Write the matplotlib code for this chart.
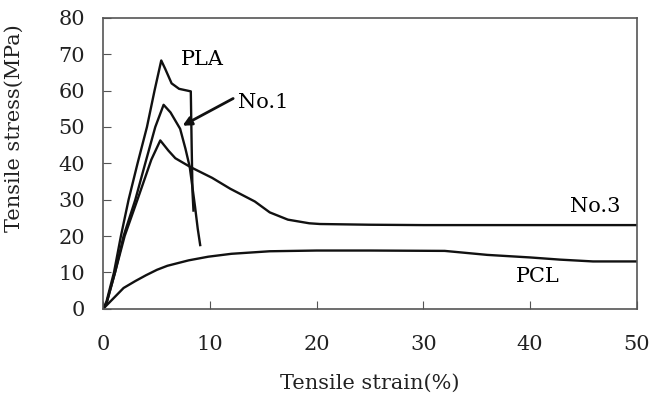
import numpy as np
import matplotlib
matplotlib.use("Agg")
from matplotlib import pyplot as plt

# Curvas tensao-deformacao
pla_x = [0, 0.3, 1.0, 1.65, 2.37, 3.21, 4.09, 4.8, 5.43, 5.8, 6.4, 7.1, 8.2, 8.28, 8.36, 8.45]
pla_y = [0, 2, 10, 20, 30, 40, 50, 60, 68.3, 66, 62, 60.5, 59.8, 45, 32, 27]

no1_x = [0, 0.3, 1.1, 1.9, 3.0, 3.93, 4.87, 5.65, 6.3, 7.2, 7.7, 8.1, 8.6, 8.85, 9.08]
no1_y = [0, 1.5, 10, 20, 30, 40, 50, 56.1, 54, 49.5, 44, 39, 28, 22, 17.5]

no3_x = [0, 0.3, 1.1, 2.0, 3.2, 4.5, 5.34, 6.1, 6.75, 8.15, 10.2, 11.9, 14.2, 15.6, 17.3, 19.3, 20.3, 25, 30, 40, 50]
no3_y = [0, 1.5, 10, 20, 30, 41, 46.3, 43.5, 41.4, 39, 36, 33, 29.5, 26.5, 24.5, 23.5, 23.3, 23.1, 23, 23, 23]

pcl_x = [0, 1, 1.9, 3, 4, 5.03, 6, 8, 9.83, 12, 15.6, 20, 25, 32, 36, 40, 42.8, 45.9, 50]
pcl_y = [0, 3, 5.7, 7.6, 9.2, 10.7, 11.8, 13.3, 14.3, 15.1, 15.8, 16, 16, 15.9, 14.8, 14.1, 13.5, 13, 13]

xticks = [0, 10, 20, 30, 40, 50]
yticks = [0, 10, 20, 30, 40, 50, 60, 70, 80]

plt.rcParams['font.family'] = ['DejaVu Serif']
fs = 15

fig = plt.figure(figsize=(6.49, 4.0), dpi=100)
ax = fig.add_axes([0.1592, 0.2283, 0.8219, 0.7268])

for xs, ys in [(pla_x, pla_y), (no1_x, no1_y), (no3_x, no3_y), (pcl_x, pcl_y)]:
    ax.plot(xs, ys, color='#111111', lw=1.7)

ax.set_xlim(0, 50)
ax.set_ylim(0, 80)
ax.set_xticks(xticks)
ax.set_yticks(yticks)
ax.tick_params(direction='in', length=6, color='#555555', labelsize=fs, labelcolor='#222222')
ax.tick_params(axis='x', pad=19)
ax.tick_params(axis='y', pad=13)
for s in ax.spines.values():
    s.set_color('#555555')
    s.set_linewidth(1.2)

ax.set_xlabel('Tensile strain(%)', fontsize=fs, labelpad=14, color='#222222')
ax.set_ylabel('Tensile stress(MPa)', fontsize=fs, labelpad=14, color='#222222')
ax.yaxis.set_label_coords(-0.15, 0.62)

ax.text(9.27, 68.7, 'PLA', fontsize=fs, ha='center', va='center')
ax.text(15.0, 56.6, 'No.1', fontsize=fs, ha='center', va='center')
ax.annotate('', xy=(7.2, 50), xytext=(12.4, 58.2),
            arrowprops=dict(arrowstyle='-|>', color='#111111', lw=2, mutation_scale=13))
ax.text(46.1, 28, 'No.3', fontsize=fs, ha='center', va='center')
ax.text(40.7, 8.8, 'PCL', fontsize=fs, ha='center', va='center')

fig.savefig('out.png', dpi=100)
